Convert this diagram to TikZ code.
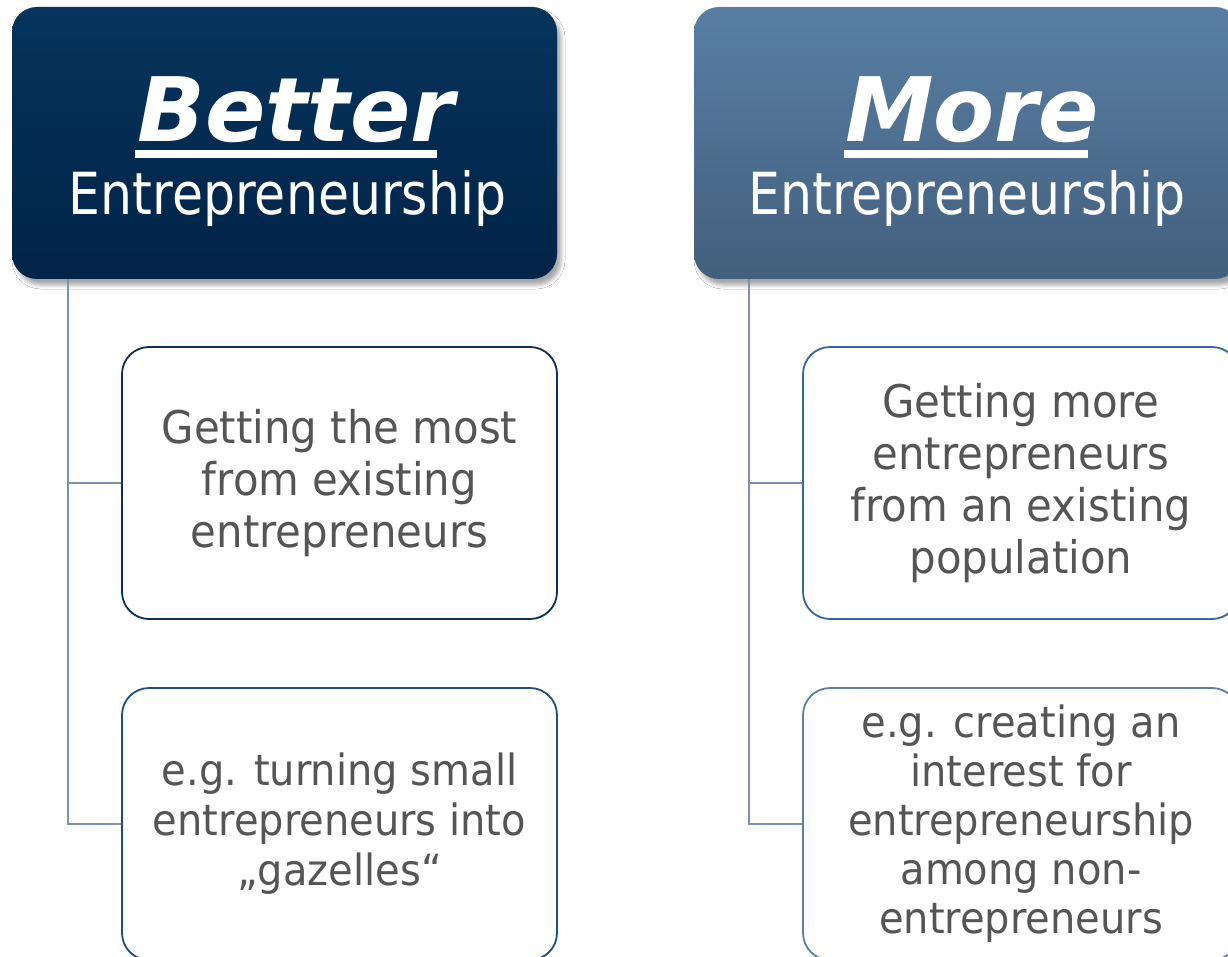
\documentclass[tikz,border=0pt]{standalone}
\usepackage{fontspec}
\usetikzlibrary{shadows.blur}
\newfontfamily\bodyfont[FakeStretch=0.93]{DejaVu Sans}
\newfontfamily\headfont[FakeStretch=0.87]{DejaVu Sans}
\newfontfamily\bigfont{DejaVu Sans}
\definecolor{hLtop}{HTML}{06345D}
\definecolor{hLbot}{HTML}{012347}
\definecolor{hRtop}{HTML}{587FA3}
\definecolor{hRbot}{HTML}{435F7E}
\definecolor{bordL1}{HTML}{0E2F55}
\definecolor{bordL2}{HTML}{1E4F7E}
\definecolor{bordR1}{HTML}{37679A}
\definecolor{bordR2}{HTML}{5B7EA3}
\definecolor{conncol}{HTML}{7A93B3}
\definecolor{txtgray}{HTML}{555555}
\tikzset{
  header/.style={rectangle, rounded corners=25pt, minimum width=545pt, minimum height=272pt,
    inner sep=0pt, blur shadow={shadow xshift=4pt, shadow yshift=-6pt, shadow blur radius=4pt, shadow opacity=35}},
  itembox/.style={rectangle, rounded corners=27pt, minimum width=435pt, minimum height=272pt,
    inner sep=0pt, line width=1.8pt, fill=white, text=txtgray, align=center},
  bodyA/.style={font=\bodyfont\fontsize{45}{52}\selectfont},
  bodyB/.style={font=\bodyfont\fontsize{43}{50}\selectfont},
  bodyC/.style={font=\bodyfont\fontsize{43}{49}\selectfont},
  bigword/.style={anchor=base, text=white, inner sep=0pt, font=\bigfont\bfseries\itshape\fontsize{89}{92}\selectfont},
  subword/.style={anchor=base, text=white, inner sep=0pt, font=\headfont\fontsize{58}{64}\selectfont},
  conn/.style={draw=conncol, line width=1.6pt},
}
\begin{document}
\begin{tikzpicture}[x=1pt,y=-1pt]
\path[use as bounding box, clip] (0,0) rectangle (1228,957);
\fill[white] (0,0) rectangle (1228,957);

% headers
\node[header, top color=hLtop, bottom color=hLbot] (hL) at (284.5,143) {};
\node[header, top color=hRtop, bottom color=hRbot, minimum width=546pt] (hR) at (967,143) {};

\node[bigword] (tBetter) at (296,142) {Better};
\node[subword] (tEntL) at (287.5,215) {Entrepreneurship};
\fill[white] (135,150) rectangle (437,158);

\node[bigword] (tMore) at (972,142) {More};
\node[subword] (tEntR) at (967,215) {Entrepreneurship};
\fill[white] (844,150) rectangle (1088,158);

% item boxes
\node[itembox, bodyA, draw=bordL1] (bL1) at (339.5,483) {Getting the most\\from existing\\entrepreneurs};
\node[itembox, bodyB, draw=bordL2] (bL2) at (339.5,824) {e.g. turning small\\entrepreneurs into\\„gazelles“};
\node[itembox, bodyA, draw=bordR1, minimum width=436pt] (bR1) at (1021,483) {Getting more\\entrepreneurs\\from an existing\\population};
\node[itembox, bodyC, draw=bordR2, minimum width=436pt] (bR2) at (1021,824) {e.g. creating an\\interest for\\entrepreneurship\\among non-\\entrepreneurs};

% connectors
\draw[conn] ([xshift=56pt]hL.south west) |- (bL1.west);
\draw[conn] ([xshift=56pt]hL.south west) |- (bL2.west);
\draw[conn] ([xshift=55pt]hR.south west) |- (bR1.west);
\draw[conn] ([xshift=55pt]hR.south west) |- (bR2.west);
\end{tikzpicture}
\end{document}
